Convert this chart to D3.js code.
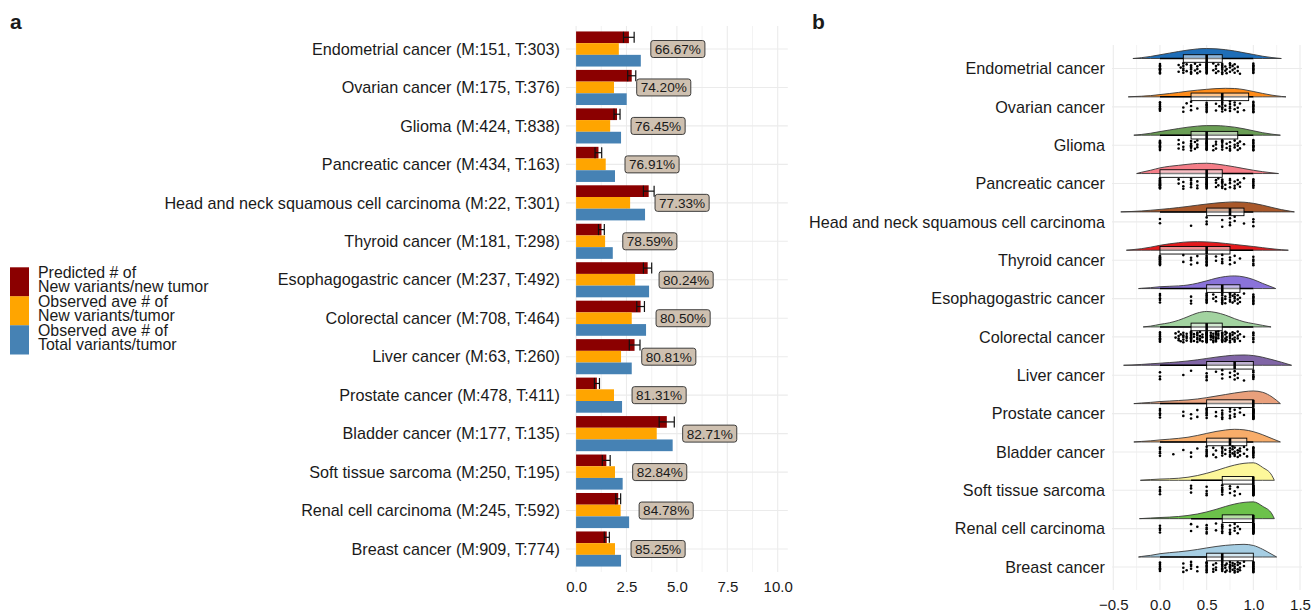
<!DOCTYPE html>
<html>
<head>
<meta charset="utf-8">
<script src="https://cdn.jsdelivr.net/npm/d3@7"></script>
<style>
  body { margin: 0; background: #fff; }
  svg { display: block; }
  text { font-family: "Liberation Sans", Arial, Helvetica, sans-serif; fill: #1a1a1a; }
</style>
</head>
<body>
<svg id="chart" width="1312" height="612"></svg>
<script>
// ---------- data ----------
const categories = [
  "Endometrial cancer", "Ovarian cancer", "Glioma", "Pancreatic cancer",
  "Head and neck squamous cell carcinoma", "Thyroid cancer", "Esophagogastric cancer",
  "Colorectal cancer", "Liver cancer", "Prostate cancer", "Bladder cancer",
  "Soft tissue sarcoma", "Renal cell carcinoma", "Breast cancer"
];
const mCounts = [151, 175, 424, 434, 22, 181, 237, 708, 63, 478, 177, 250, 245, 909];
const tCounts = [303, 376, 838, 163, 301, 298, 492, 464, 260, 411, 135, 195, 592, 774];

// panel a: variants per tumour
const predictedNew   = [2.62, 2.76, 2.03, 1.11, 3.60, 1.26, 3.55, 3.20, 2.90, 1.03, 4.50, 1.50, 2.09, 1.52];
const predictedLow   = [2.35, 2.56, 1.88, 0.94, 3.34, 1.11, 3.34, 3.01, 2.64, 0.91, 4.12, 1.30, 1.97, 1.40];
const predictedHigh  = [2.88, 2.96, 2.18, 1.27, 3.87, 1.40, 3.75, 3.39, 3.17, 1.16, 4.87, 1.69, 2.21, 1.65];
const observedNew    = [2.12, 1.88, 1.69, 1.47, 2.68, 1.44, 2.93, 2.76, 2.23, 1.88, 4.00, 1.93, 2.21, 1.93];
const observedTotal  = [3.21, 2.51, 2.23, 1.93, 3.42, 1.82, 3.62, 3.47, 2.76, 2.28, 4.79, 2.31, 2.63, 2.23];
const percentShared  = [66.67, 74.20, 76.45, 76.91, 77.33, 78.59, 80.24, 80.50, 80.81, 81.31, 82.71, 82.84, 84.78, 85.25];
const xTicksA = [0, 2.5, 5, 7.5, 10];

const legendLabels = [
  ["Predicted # of", "New variants/new tumor"],
  ["Observed ave # of", "New variants/tumor"],
  ["Observed ave # of", "Total variants/tumor"]
];
const barColors = ["#8B0000", "#FFA500", "#4682B4"];

// panel b: per-tumour fractions, listed as [value, count]
const endometrialPts = [[0,9],[0.2,2],[0.222,1],[0.25,5],[0.286,2],[0.333,6],[0.375,2],[0.4,3],[0.429,2],[0.5,14],[0.571,2],[0.6,3],[0.625,2],[0.667,7],[0.7,2],[0.714,2],[0.75,4],[0.778,2],[0.8,3],[0.833,2],[0.857,1],[1,9]];
const ovarianPts     = [[0,7],[0.25,2],[0.286,1],[0.333,3],[0.4,1],[0.5,8],[0.6,2],[0.636,1],[0.667,6],[0.7,2],[0.75,5],[0.8,3],[0.833,2],[0.857,1],[0.9,1],[1,10]];
const gliomaPts      = [[0,10],[0.2,3],[0.25,3],[0.333,6],[0.375,2],[0.4,3],[0.5,14],[0.571,2],[0.6,3],[0.667,6],[0.714,2],[0.75,4],[0.8,3],[0.833,3],[0.857,2],[0.9,1],[1,10]];
const pancreaticPts  = [[0,16],[0.2,2],[0.25,3],[0.333,5],[0.4,3],[0.5,14],[0.6,3],[0.625,2],[0.667,6],[0.7,2],[0.75,4],[0.8,3],[0.833,2],[0.857,2],[0.9,1],[1,7]];
const headNeckPts    = [[0,2],[0.333,1],[0.5,3],[0.667,2],[0.75,3],[0.8,2],[0.9,1],[1,3]];
const thyroidPts     = [[0,12],[0.25,2],[0.333,3],[0.4,2],[0.5,10],[0.6,2],[0.667,4],[0.75,3],[0.8,2],[0.857,1],[1,5]];
const esophagoPts    = [[0,5],[0.333,3],[0.5,8],[0.571,2],[0.6,2],[0.667,7],[0.7,3],[0.75,5],[0.778,2],[0.8,4],[0.833,3],[0.857,2],[0.9,1],[1,8]];
const colorectalPts  = [[0,8],[0.167,2],[0.2,4],[0.222,2],[0.25,5],[0.286,4],[0.333,10],[0.364,3],[0.4,6],[0.429,4],[0.455,3],[0.5,20],[0.545,4],[0.571,5],[0.6,7],[0.625,4],[0.667,10],[0.7,4],[0.714,3],[0.75,6],[0.778,3],[0.8,4],[0.833,3],[0.857,2],[0.9,1],[1,6]];
const liverPts       = [[0,3],[0.25,1],[0.333,1],[0.5,4],[0.6,1],[0.667,3],[0.75,2],[0.8,3],[0.833,2],[0.9,1],[1,6]];
const prostatePts    = [[0,5],[0.25,2],[0.333,2],[0.4,2],[0.5,7],[0.6,2],[0.667,5],[0.75,4],[0.8,3],[0.857,2],[0.9,1],[1,20]];
const bladderPts     = [[0,5],[0.143,1],[0.25,1],[0.333,2],[0.4,1],[0.5,7],[0.571,2],[0.6,2],[0.667,5],[0.7,2],[0.75,5],[0.778,3],[0.8,4],[0.833,3],[0.857,3],[0.9,2],[0.933,2],[1,10]];
const softTissuePts  = [[0,4],[0.333,3],[0.5,4],[0.667,6],[0.75,3],[0.8,2],[0.833,1],[0.857,1],[1,22]];
const renalPts       = [[0,4],[0.333,2],[0.4,1],[0.5,5],[0.6,2],[0.667,6],[0.75,4],[0.8,3],[0.833,2],[0.857,1],[1,24]];
const breastPts      = [[0,7],[0.25,3],[0.286,1],[0.333,4],[0.4,2],[0.5,9],[0.571,3],[0.6,3],[0.667,8],[0.7,3],[0.714,2],[0.75,6],[0.778,3],[0.8,5],[0.833,4],[0.857,3],[0.9,2],[1,14]];
const pointSets = [endometrialPts, ovarianPts, gliomaPts, pancreaticPts, headNeckPts, thyroidPts,
  esophagoPts, colorectalPts, liverPts, prostatePts, bladderPts, softTissuePts, renalPts, breastPts];

const boxQ1      = [0.25, 0.333, 0.333, 0, 0.5, 0, 0.5, 0.333, 0.5, 0.5, 0.5, 0.667, 0.667, 0.5];
const boxMedian  = [0.5, 0.667, 0.5, 0.5, 0.75, 0.5, 0.667, 0.5, 0.8, 1, 0.75, 1, 1, 0.667];
const boxQ3      = [0.667, 0.95, 0.833, 0.667, 0.9, 0.75, 0.857, 0.667, 1, 1, 0.93, 1, 1, 1];
const whiskerLow = [0, 0, 0, 0, 0, 0, 0, 0, 0, 0, 0, 0.333, 0.333, 0];
const whiskerHigh= [1, 1, 1, 1, 1, 1, 1, 1, 1, 1, 1, 1, 1, 1];

// density curves (relative units) sampled at -0.4, -0.3, ..., 1.4, with the curve's end points
const densityGrid = d3.range(19).map(i => Math.round((-0.4 + i * 0.1) * 10) / 10);
const densityLow  = [-0.29, -0.34, -0.28, -0.25, -0.42, -0.36, -0.23, -0.18, -0.39, -0.28, -0.28, -0.21, -0.22, -0.23];
const densityHigh = [1.30, 1.35, 1.29, 1.27, 1.44, 1.375, 1.24, 1.19, 1.41, 1.29, 1.29, 1.225, 1.225, 1.25];
const densityEndometrial = [0, 0, 0.8, 2.0, 3.6, 5.2, 6.8, 8.2, 9.3, 9.7, 9.4, 8.6, 7.3, 5.6, 3.9, 2.2, 0.9, 0, 0];
const densityOvarian     = [0, 0.2, 0.6, 1.2, 2.2, 3.2, 4.3, 5.5, 6.5, 7.3, 8.0, 8.3, 8.1, 7.0, 5.2, 3.3, 1.6, 0.4, 0];
const densityGlioma      = [0, 0, 0.7, 1.9, 3.5, 5.0, 6.5, 7.8, 8.8, 9.3, 9.3, 8.8, 7.8, 6.2, 4.3, 2.4, 1.0, 0, 0];
const densityPancreatic  = [0, 0, 1.2, 3.2, 5.5, 7.0, 8.0, 9.0, 9.8, 10.0, 9.3, 8.0, 6.5, 4.8, 3.2, 1.8, 0.7, 0, 0];
const densityHeadNeck    = [0, 0.4, 0.9, 1.6, 2.4, 3.2, 4.2, 5.3, 6.5, 7.6, 8.6, 9.3, 9.7, 9.4, 8.3, 6.5, 4.3, 2.2, 0.6];
const densityThyroid     = [0, 0.5, 1.5, 3.0, 4.8, 6.2, 7.3, 8.1, 8.3, 8.1, 7.5, 6.6, 5.6, 4.6, 3.6, 2.5, 1.4, 0.5, 0];
const densityEsophago    = [0, 0, 0.3, 0.9, 1.8, 2.2, 2.6, 3.5, 5.2, 7.5, 10.0, 11.7, 12.3, 11.3, 8.8, 5.0, 1.5, 0, 0];
const densityColorectal  = [0, 0, 0, 0.8, 2.5, 4.0, 6.5, 10.0, 13.5, 15.0, 14.0, 11.5, 8.0, 5.0, 3.2, 1.5, 0, 0, 0];
const densityLiver       = [0, 0.3, 0.8, 1.4, 2.0, 2.6, 3.3, 4.2, 5.3, 6.6, 7.9, 9.0, 9.8, 10.0, 9.4, 7.8, 5.5, 3.0, 0.6];
const densityProstate    = [0, 0, 0.6, 1.2, 2.0, 2.5, 3.0, 3.6, 4.5, 5.8, 7.3, 8.8, 10.3, 11.6, 12.3, 11.0, 6.5, 0, 0];
const densityBladder     = [0, 0, 0.5, 1.1, 2.0, 2.7, 3.5, 4.6, 6.3, 8.3, 10.2, 11.6, 12.3, 11.8, 10.0, 7.0, 3.3, 0, 0];
const densitySoftTissue  = [0, 0, 0, 0.7, 1.2, 1.5, 2.0, 3.0, 4.6, 6.8, 9.4, 12.3, 14.8, 16.5, 17.0, 12.5, 4.5, 0, 0];
const densityRenal       = [0, 0, 0, 0.6, 1.1, 1.5, 2.1, 3.1, 4.5, 6.5, 9.0, 11.8, 14.2, 15.8, 16.3, 12.0, 4.5, 0, 0];
const densityBreast      = [0, 0, 0.5, 1.6, 3.2, 4.2, 5.0, 6.0, 7.3, 8.8, 10.2, 11.3, 12.0, 12.3, 11.2, 7.5, 2.5, 0, 0];
const densitySets = [densityEndometrial, densityOvarian, densityGlioma, densityPancreatic, densityHeadNeck,
  densityThyroid, densityEsophago, densityColorectal, densityLiver, densityProstate, densityBladder,
  densitySoftTissue, densityRenal, densityBreast];

const violinColors = ["#1F6EB8", "#FF8C1A", "#6A9E55", "#F57E88", "#A9582A", "#E41A1C", "#8A73DA",
  "#A2D3A0", "#8065A6", "#E9A07C", "#F8AD6A", "#FDF79A", "#6CC24A", "#A6CEE3"];
const xTicksB = [-0.5, 0, 0.5, 1, 1.5];

// ---------- drawing ----------
const svg = d3.select("#chart");
const grid = "#EBEBEB";

// panel letters
svg.append("text").attr("x", 10).attr("y", 29).style("font-size", "21px").style("font-weight", "bold").text("a");
svg.append("text").attr("x", 812).attr("y", 29).style("font-size", "21px").style("font-weight", "bold").text("b");

// ===== panel a =====
const xA = d3.scaleLinear().domain([-0.5, 10.5]).range([566, 787.8]);
const yA = d3.scalePoint().domain(categories).range([49, 549]);
const gA = svg.append("g");

d3.range(0, 10.001, 1.25).forEach((v, i) => {
  gA.append("line").attr("x1", xA(v)).attr("x2", xA(v)).attr("y1", 26).attr("y2", 572)
    .attr("stroke", grid).attr("stroke-width", i % 2 === 0 ? 1.1 : 0.6);
});
categories.forEach(c => {
  gA.append("line").attr("x1", 566).attr("x2", 787.8).attr("y1", yA(c)).attr("y2", yA(c))
    .attr("stroke", grid).attr("stroke-width", 1.1);
});

const axisA = gA.append("g").attr("transform", "translate(0,572)")
  .call(d3.axisBottom(xA).tickValues(xTicksA).tickFormat(d3.format(".1f")).tickSize(0).tickPadding(9));
axisA.select(".domain").remove();
axisA.selectAll("text").style("font-size", "15px").attr("fill", "#1a1a1a").style("font-family", null);

const yAxisA = gA.append("g").attr("transform", "translate(566,0)")
  .call(d3.axisLeft(yA).tickSize(0).tickPadding(6)
    .tickFormat((d, i) => `${d} (M:${mCounts[i]}, T:${tCounts[i]})`));
yAxisA.select(".domain").remove();
yAxisA.selectAll("text").style("font-size", "16.2px").attr("fill", "#1a1a1a").style("font-family", null);

// bars
const barH = 11.7;
const series = [predictedNew, observedNew, observedTotal];
series.forEach((vals, s) => {
  gA.append("g").selectAll("rect").data(categories).join("rect")
    .attr("x", xA(0))
    .attr("y", c => yA(c) + (s - 1) * barH - barH / 2)
    .attr("width", (c, i) => xA(vals[i]) - xA(0))
    .attr("height", barH)
    .attr("fill", barColors[s]);
});

// error bars on the predicted series
const eb = gA.append("g").attr("stroke", "#111").attr("stroke-width", 1.2);
categories.forEach((c, i) => {
  const y = yA(c) - barH;
  eb.append("line").attr("x1", xA(predictedLow[i])).attr("x2", xA(predictedHigh[i])).attr("y1", y).attr("y2", y);
  eb.append("line").attr("x1", xA(predictedLow[i])).attr("x2", xA(predictedLow[i])).attr("y1", y - 5.5).attr("y2", y + 5.5);
  eb.append("line").attr("x1", xA(predictedHigh[i])).attr("x2", xA(predictedHigh[i])).attr("y1", y - 5.5).attr("y2", y + 5.5);
});

// percentage labels
const labG = gA.append("g");
categories.forEach((c, i) => {
  const left = xA(observedTotal[i]) + 10;
  const g = labG.append("g");
  const rect = g.append("rect");
  const t = g.append("text").attr("x", left + 4).attr("y", yA(c)).attr("dy", "0.36em")
    .style("font-size", "13.6px").text(percentShared[i].toFixed(2) + "%");
  const w = t.node().getComputedTextLength() + 8;
  rect.attr("x", left).attr("y", yA(c) - 8.5).attr("width", w).attr("height", 17)
    .attr("rx", 2.5).attr("fill", "#CEC0B0").attr("stroke", "#2a2a2a").attr("stroke-width", 0.9);
});

// legend
const legG = svg.append("g");
legendLabels.forEach((lines, i) => {
  const top = 267.3 + i * 29;
  legG.append("rect").attr("x", 10).attr("y", top).attr("width", 19).attr("height", 29.2).attr("fill", barColors[i]);
  lines.forEach((ln, j) => {
    legG.append("text").attr("x", 38).attr("y", top + 4.8 + j * 14.5).attr("dy", "0.36em")
      .style("font-size", "15.9px").text(ln);
  });
});

// ===== panel b =====
const xB = d3.scaleLinear().domain([-0.5, 1.5]).range([1113.3, 1300]);
const yB = d3.scalePoint().domain(categories).range([68.5, 567]);
const hB = d3.scaleLinear().domain([0, 17]).range([0, 17.5]);
const gB = svg.append("g");

d3.range(-0.5, 1.5001, 0.25).forEach((v, i) => {
  gB.append("line").attr("x1", xB(v)).attr("x2", xB(v)).attr("y1", 45).attr("y2", 590)
    .attr("stroke", grid).attr("stroke-width", i % 2 === 0 ? 1.1 : 0.6);
});
categories.forEach(c => {
  gB.append("line").attr("x1", 1112).attr("x2", 1302).attr("y1", yB(c)).attr("y2", yB(c))
    .attr("stroke", grid).attr("stroke-width", 1.1);
});

const axisB = gB.append("g").attr("transform", "translate(0,590)")
  .call(d3.axisBottom(xB).tickValues(xTicksB).tickFormat(d => d3.format(".1f")(d).replace("-", "\u2212")).tickSize(0).tickPadding(9));
axisB.select(".domain").remove();
axisB.selectAll("text").style("font-size", "15px").attr("fill", "#1a1a1a").style("font-family", null);

const yAxisB = gB.append("g").attr("transform", "translate(1111,0)")
  .call(d3.axisLeft(yB).tickSize(0).tickPadding(6));
yAxisB.select(".domain").remove();
yAxisB.selectAll("text").style("font-size", "16.2px").attr("fill", "#1a1a1a").style("font-family", null);

categories.forEach((c, k) => {
  const cy = yB(c);
  const base = cy - 10;
  const g = gB.append("g");
  // half violin
  const lo = densityLow[k], hi = densityHigh[k];
  const prof = [[lo, 0]]
    .concat(densityGrid.map((v, i) => [v, densitySets[k][i]]).filter(p => p[0] > lo + 0.02 && p[0] < hi - 0.02))
    .concat([[hi, 0]]);
  const area = d3.area().x(p => xB(p[0])).y0(base).y1(p => base - hB(p[1])).curve(d3.curveMonotoneX);
  g.append("path").attr("d", area(prof)).attr("fill", violinColors[k])
    .attr("stroke", "#3a3a3a").attr("stroke-width", 0.9);
  // whiskers
  g.append("line").attr("x1", xB(whiskerLow[k])).attr("x2", xB(whiskerHigh[k]))
    .attr("y1", base).attr("y2", base).attr("stroke", "#000").attr("stroke-width", 1.5);
  // box
  g.append("rect").attr("x", xB(boxQ1[k])).attr("y", base - 3.8)
    .attr("width", Math.max(0, xB(boxQ3[k]) - xB(boxQ1[k]))).attr("height", 7.6)
    .attr("fill", "#fff").attr("fill-opacity", 0.5).attr("stroke", "#000").attr("stroke-width", 0.9);
  g.append("line").attr("x1", xB(boxMedian[k])).attr("x2", xB(boxMedian[k]))
    .attr("y1", base - 3.8).attr("y2", base + 3.8).attr("stroke", "#000").attr("stroke-width", 2.6);
  // raw observations, spread vertically below the box
  let idx = 0;
  const pts = [];
  pointSets[k].forEach(([v, n]) => {
    for (let j = 0; j < n; j++) {
      idx++;
      const off = (((idx * 0.6180339887) % 1) - 0.5) * 11;
      pts.push([v, cy + off]);
    }
  });
  g.append("g").selectAll("circle").data(pts).join("circle")
    .attr("cx", p => xB(p[0])).attr("cy", p => p[1]).attr("r", 1.3).attr("fill", "#000");
});
</script>
</body>
</html>
